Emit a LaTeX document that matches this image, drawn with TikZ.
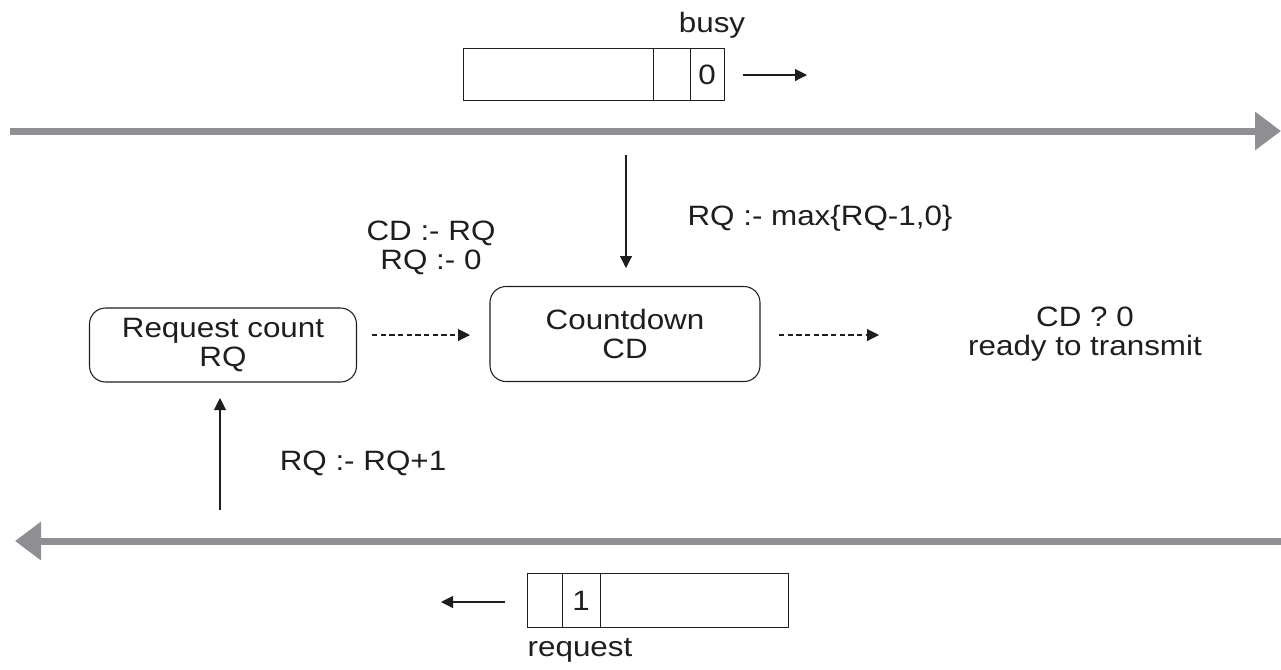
\documentclass[tikz,border=0pt]{standalone}
\usepackage{fontspec}
\setmainfont{Liberation Sans}[FakeStretch=1.12]
\usetikzlibrary{arrows.meta}
\definecolor{busgray}{RGB}{142,142,147}
\definecolor{ink}{RGB}{30,30,30}
\begin{document}
\begin{tikzpicture}[x=0.75pt,y=-0.75pt,
  every node/.style={font=\fontsize{21}{21.5}\selectfont, text=ink},
  bus/.style={draw=busgray, line width=5.25pt, -{Triangle[length=19.5pt,width=27.75pt]}},
  thin/.style={draw=ink, line width=0.8pt, -{Triangle[length=9pt,width=9pt]}},
  dashedarr/.style={thin, dash pattern=on 4pt off 2.5pt},
  state/.style={draw=ink, line width=0.8pt, rounded corners=12pt, align=center, inner sep=0pt},
  cell/.style={draw=ink, line width=0.8pt, inner sep=0pt, anchor=north west},
  lbl/.style={align=center, inner sep=0pt}]
\useasboundingbox (0,0) rectangle (1281,669);

% top bus
\coordinate (tb1) at (10,131);
\coordinate (tb2) at (1281,131);
\draw[bus] (tb1) -- (tb2);
% bottom bus
\coordinate (bb1) at (1281,541);
\coordinate (bb2) at (15,541);
\draw[bus] (bb1) -- (bb2);

% top frame (busy)
\node[cell, minimum width=190*0.75pt, minimum height=52*0.75pt] (bf1) at (463,48) {};
\node[cell, minimum width=37*0.75pt, minimum height=52*0.75pt] (bf2) at (653,48) {};
\node[cell, minimum width=34*0.75pt, minimum height=52*0.75pt] (bf3) at (690,48) {};
\node[lbl] (zero) at (707,75) {0};
\node[lbl, anchor=base] (busy) at (712,32) {busy};
\coordinate (ba1) at (743,75);
\coordinate (ba2) at (807,75);
\draw[thin] (ba1) -- (ba2);

% bottom frame (request)
\node[cell, minimum width=35*0.75pt, minimum height=54*0.75pt] (rf1) at (527,573) {};
\node[cell, minimum width=38*0.75pt, minimum height=54*0.75pt] (rf2) at (562,573) {};
\node[cell, minimum width=188*0.75pt, minimum height=54*0.75pt] (rf3) at (600,573) {};
\node[lbl] (one) at (581,601) {1};
\node[lbl] (req) at (580,650) {request};
\coordinate (ra1) at (505,602);
\coordinate (ra2) at (441,602);
\draw[thin] (ra1) -- (ra2);

% state boxes
\node[state, minimum width=267*0.75pt, minimum height=74*0.75pt] (rq) at (223,345) {Request count\\RQ};
\node[state, minimum width=270*0.75pt, minimum height=95*0.75pt] (cd) at (625,334) {Countdown\\CD};
\node[lbl] (ready) at (1085,334) {CD ? 0\\ready to transmit};

% dashed arrows
\coordinate (d1a) at (372,335);
\coordinate (d1b) at (470,335);
\draw[dashedarr] (d1a) -- (d1b);
\coordinate (d2a) at (779,335);
\coordinate (d2b) at (879,335);
\draw[dashedarr] (d2a) -- (d2b);

% vertical arrows
\coordinate (va1) at (626,155);
\coordinate (va2) at (626,268);
\draw[thin] (va1) -- (va2);
\coordinate (ua1) at (220,510);
\coordinate (ua2) at (220,398);
\draw[thin] (ua1) -- (ua2);

% labels
\node[lbl] (maxl) at (820,218) {RQ :- max\{RQ-1,0\}};
\node[lbl] (cdl) at (431,248) {CD :- RQ\\RQ :- 0};
\node[lbl] (incl) at (363,463) {RQ :- RQ+1};
\end{tikzpicture}
\end{document}
